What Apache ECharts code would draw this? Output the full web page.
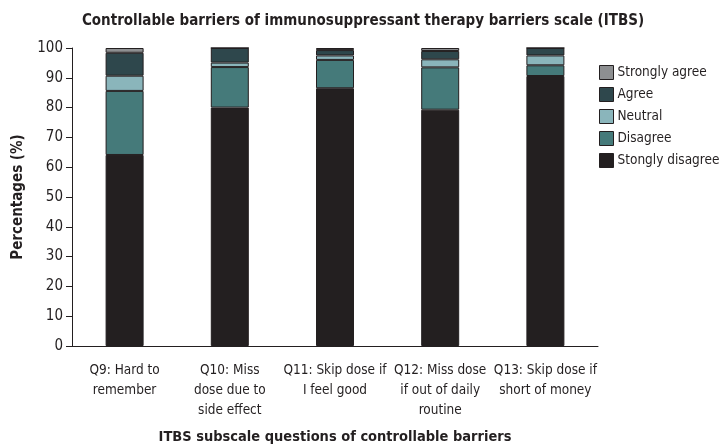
<!DOCTYPE html>
<html><head><meta charset="utf-8">
<script src="https://cdn.jsdelivr.net/npm/echarts@6/dist/echarts.min.js"></script>
<style>html,body{margin:0;padding:0;background:#fff}#c{width:724px;height:448px}</style>
</head><body><div id="c"></div>
<script>
var categories = ['Q9: Hard to\nremember', 'Q10: Miss\ndose due to\nside effect', 'Q11: Skip dose if\nI feel good', 'Q12: Miss dose\nif out of daily\nroutine', 'Q13: Skip dose if\nshort of money'];
var stronglyDisagree = [64.1, 80.0, 86.5, 79.3, 90.6];
var disagree = [21.5, 13.6, 9.5, 14.2, 3.6];
var neutral = [5.1, 1.5, 1.5, 2.7, 3.3];
var agree = [7.7, 4.9, 1.8, 2.8, 2.5];
var stronglyAgree = [1.6, 0, 0.7, 1.0, 0];
var yTicks = [0, 10, 20, 30, 40, 50, 60, 70, 80, 90, 100];

var FONT = '"Liberation Sans Narrow", "DejaVu Sans Condensed", "Open Sans", sans-serif';
var chart = echarts.init(document.getElementById('c'));
function s(name, data, color) {
  return { name: name, type: 'bar', stack: 'all', data: data, barWidth: 38,
    itemStyle: { color: color, borderColor: '#231f20', borderWidth: 1 } };
}
chart.setOption({
  animation: false,
  textStyle: { fontFamily: FONT },
  title: { text: 'Controllable barriers of immunosuppressant therapy barriers scale (ITBS)',
    left: 358, textAlign: 'center', top: 9,
    textStyle: { fontFamily: FONT, fontSize: 15, fontWeight: 'bold', color: '#231f20' } },
  legend: { orient: 'vertical', left: 594, top: 60, itemWidth: 14, itemHeight: 14, itemGap: 7,
    icon: 'rect', itemStyle: { borderColor: '#231f20', borderWidth: 1 },
    data: ['Strongly agree', 'Agree', 'Neutral', 'Disagree', 'Stongly disagree'],
    textStyle: { fontFamily: FONT, fontSize: 13.5, color: '#231f20', padding: [0, 0, 0, -1] } },
  grid: { left: 72, right: 126, top: 48, bottom: 102, outerBoundsMode: 'none', containLabel: false },
  xAxis: { type: 'category', data: categories,
    name: 'ITBS subscale questions of controllable barriers', nameLocation: 'middle', nameGap: 84,
    nameTextStyle: { fontFamily: FONT, fontSize: 14.5, fontWeight: 'bold', color: '#231f20' },
    axisLine: { lineStyle: { color: '#231f20', width: 1 } }, axisTick: { show: false },
    axisLabel: { fontFamily: FONT, fontSize: 13.5, color: '#231f20', lineHeight: 20, margin: 14, interval: 0 } },
  yAxis: { type: 'value', min: 0, max: 100, interval: 10,
    name: 'Percentages (%)', nameLocation: 'middle', nameGap: 46, nameRotate: 90,
    nameTextStyle: { fontFamily: FONT, fontSize: 15, fontWeight: 'bold', color: '#231f20' },
    axisLine: { show: true, lineStyle: { color: '#231f20', width: 1 } },
    axisTick: { show: true, length: 6, lineStyle: { color: '#231f20' } },
    splitLine: { show: false },
    axisLabel: { fontFamily: FONT, fontSize: 15, color: '#231f20', margin: 9,
      formatter: function (v) { return yTicks.indexOf(v) >= 0 ? String(v) : ''; } } },
  series: [
    s('Stongly disagree', stronglyDisagree, '#231f20'),
    s('Disagree', disagree, '#457a7a'),
    s('Neutral', neutral, '#8ab5bb'),
    s('Agree', agree, '#2e474c'),
    s('Strongly agree', stronglyAgree, '#8d8f91')
  ]
});
</script></body></html>
